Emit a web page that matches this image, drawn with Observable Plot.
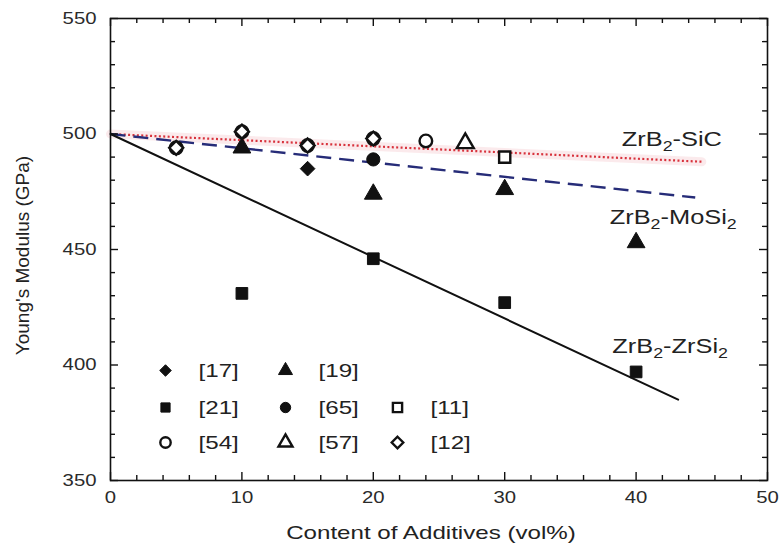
<!DOCTYPE html>
<html>
<head>
<meta charset="utf-8">
<script src="https://cdn.jsdelivr.net/npm/d3@7"></script>
<script src="https://cdn.jsdelivr.net/npm/@observablehq/plot@0.6"></script>
<style>
  body { margin: 0; background: #fff; }
</style>
</head>
<body>
<div id="chart"></div>
<script>
// Young's modulus of ZrB2-based composites against additive content.

// Linear trends for the three composite systems: [vol%, GPa]
const fitSiC = [[0, 500], [45, 488]];
const fitMoSi2 = [[0, 500], [44.5, 472.5]];
const fitZrSi2 = [[0, 500], [43.2, 385]];
const fitLabels = ["ZrB2-SiC", "ZrB2-MoSi2", "ZrB2-ZrSi2"];

// Measured values by literature reference: [vol%, GPa]
const ref17 = [[15, 485]];
const ref19 = [[10, 494], [20, 474], [30, 476], [40, 453]];
const ref21 = [[10, 431], [20, 446], [30, 427], [40, 397]];
const ref65 = [[20, 489]];
const ref11 = [[30, 490]];
const ref54 = [[5, 494], [10, 501], [15, 495], [20, 498], [24, 497]];
const ref57 = [[27, 496]];
const ref12 = [[5, 494], [10, 501], [15, 495], [20, 498]];

const refKeys = ["[17]", "[19]", "[21]", "[65]", "[11]", "[54]", "[57]", "[12]"];
const legendRows = [["[17]", "[19]"], ["[21]", "[65]", "[11]"], ["[54]", "[57]", "[12]"]];

// Axis ticks
const xMajor = [0, 10, 20, 30, 40, 50];
const yMajor = [350, 400, 450, 500, 550];
const xMinor = d3.range(0, 51, 2).filter(v => v % 10 !== 0);
const yMinor = d3.range(350, 551, 10).filter(v => v % 50 !== 0);

// Layout
const W = 781, H = 549;
const M = {top: 18, right: 14, bottom: 69, left: 110};
const plotW = W - M.left - M.right, plotH = H - M.top - M.bottom;
const ink = "#111";
const font = "'Liberation Sans', Arial, Helvetica, sans-serif";

const markerStyle = {
  "[17]": {data: ref17, symbol: "diamond2", open: false},
  "[19]": {data: ref19, symbol: "triangle", open: false},
  "[21]": {data: ref21, symbol: "square", open: false},
  "[65]": {data: ref65, symbol: "circle", open: false},
  "[11]": {data: ref11, symbol: "square", open: true},
  "[54]": {data: ref54, symbol: "circle", open: true},
  "[57]": {data: ref57, symbol: "triangle", open: true},
  "[12]": {data: ref12, symbol: "diamond2", open: true}
};

const px = d => d[0], py = d => d[1];

function dotsFor(key, extra) {
  const s = markerStyle[key];
  return {
    symbol: s.symbol,
    fill: s.open ? "white" : ink,
    stroke: ink,
    strokeWidth: s.open ? 2.4 : 1,
    ...extra
  };
}

// Inward tick marks on all four sides
function tickMarks(len) {
  return [
    Plot.ruleX(len.xs, {x: d => d, insetTop: plotH - len.n, stroke: ink, strokeWidth: 1.4}),
    Plot.ruleX(len.xs, {x: d => d, insetBottom: plotH - len.n, stroke: ink, strokeWidth: 1.4}),
    Plot.ruleY(len.ys, {y: d => d, insetRight: plotW - len.n, stroke: ink, strokeWidth: 1.4}),
    Plot.ruleY(len.ys, {y: d => d, insetLeft: plotW - len.n, stroke: ink, strokeWidth: 1.4})
  ];
}

// Legend grid (offsets from the frame's top-left corner, in pixels)
const legendCols = [55, 175, 287];
const legendRowY = [352, 389, 424];
const legendTextGap = 33;
const legendMarks = [];
legendRows.forEach((row, i) => {
  row.forEach((key, j) => {
    legendMarks.push(Plot.dot([key], dotsFor(key, {
      frameAnchor: "top-left", dx: legendCols[j], dy: legendRowY[i], r: 5.2
    })));
    legendMarks.push(Plot.text([key], {
      text: d => d, frameAnchor: "top-left", textAnchor: "start", lineAnchor: "middle",
      dx: legendCols[j] + legendTextGap, dy: legendRowY[i], fontSize: 19, fill: "#222"
    }));
  });
});

const fitLabelOffsets = [[-30, -22], [-22, 20], [-8, -53]];
const fits = [fitSiC, fitMoSi2, fitZrSi2];

const chart = Plot.plot({
  width: W,
  height: H,
  marginTop: M.top,
  marginRight: M.right,
  marginBottom: M.bottom,
  marginLeft: M.left,
  x: {domain: [0, 50]},
  y: {domain: [350, 550]},
  style: {fontFamily: font, fontSize: "16px", color: "#222", background: "white"},
  marks: [
    // soft colour bleed around the dotted SiC trend
    Plot.line(fitSiC, {x: px, y: py, stroke: "#f4c4c8", strokeWidth: 9, strokeOpacity: 0.35}),
    Plot.line(fitSiC, {x: px, y: py, stroke: "#d8323c", strokeWidth: 2.2, strokeDasharray: "2,2.4", strokeLinecap: "butt"}),
    Plot.line(fitMoSi2, {x: px, y: py, stroke: "#262c78", strokeWidth: 2.4, strokeDasharray: "15,8", strokeLinecap: "butt"}),
    Plot.line(fitZrSi2, {x: px, y: py, stroke: ink, strokeWidth: 2}),

    // filled markers, then open markers on top
    ...refKeys.filter(k => !markerStyle[k].open).map(k =>
      Plot.dot(markerStyle[k].data, dotsFor(k, {x: px, y: py, r: 6.6}))),
    ...refKeys.filter(k => markerStyle[k].open).map(k =>
      Plot.dot(markerStyle[k].data, dotsFor(k, {x: px, y: py, r: 6.3}))),

    // trend labels anchored at each line's end point
    ...fits.map((f, i) => Plot.text([f[f.length - 1]], {
      x: px, y: py, text: () => fitLabels[i],
      dx: fitLabelOffsets[i][0], dy: fitLabelOffsets[i][1],
      fontSize: 20, fill: "#222", textAnchor: "middle"
    })),

    ...legendMarks,

    Plot.frame({stroke: ink, strokeWidth: 1.6}),
    ...tickMarks({xs: xMajor, ys: yMajor, n: 8}),
    ...tickMarks({xs: xMinor, ys: yMinor, n: 5}),

    Plot.axisX({ticks: xMajor, tickSize: 0, tickPadding: 11, fontSize: 16, fill: "#2a2a2a", label: null}),
    Plot.axisY({ticks: yMajor, tickSize: 0, tickPadding: 14, fontSize: 16, fill: "#2a2a2a", label: null}),

    Plot.text(["Content of Additives (vol%)"], {
      text: d => d, frameAnchor: "bottom", textAnchor: "middle", lineAnchor: "middle",
      dx: -8, dy: 52, fontSize: 19, fill: "#222"
    }),
    Plot.text(["Young's Modulus (GPa)"], {
      text: d => d, frameAnchor: "left", textAnchor: "middle", lineAnchor: "middle",
      rotate: -90, dx: -88, dy: 6, fontSize: 19, fill: "#222"
    })
  ]
});

document.getElementById("chart").appendChild(chart);

// Chemical formulas: put the digits on a lowered, smaller baseline
d3.select(chart).selectAll("text").each(function () {
  const t = this.textContent;
  if (!/^ZrB2-/.test(t)) return;
  const sel = d3.select(this);
  sel.text(null);
  let lowered = false;
  t.split(/(\d)/).filter(s => s.length).forEach(part => {
    const isSub = /^\d$/.test(part);
    const ts = sel.append("tspan").text(part);
    if (isSub) {
      ts.attr("font-size", "70%").attr("dy", lowered ? null : 5);
      lowered = true;
    } else if (lowered) {
      ts.attr("dy", -5);
      lowered = false;
    }
  });
});

// Horizontal lettering is set a little wide
d3.select(chart).selectAll("text").each(function () {
  if (this.textContent === "Young's Modulus (GPa)") return;
  const w = this.getComputedTextLength();
  if (w > 0) {
    this.setAttribute("textLength", (w * 1.27).toFixed(1));
    this.setAttribute("lengthAdjust", "spacingAndGlyphs");
  }
});
</script>
</body>
</html>
